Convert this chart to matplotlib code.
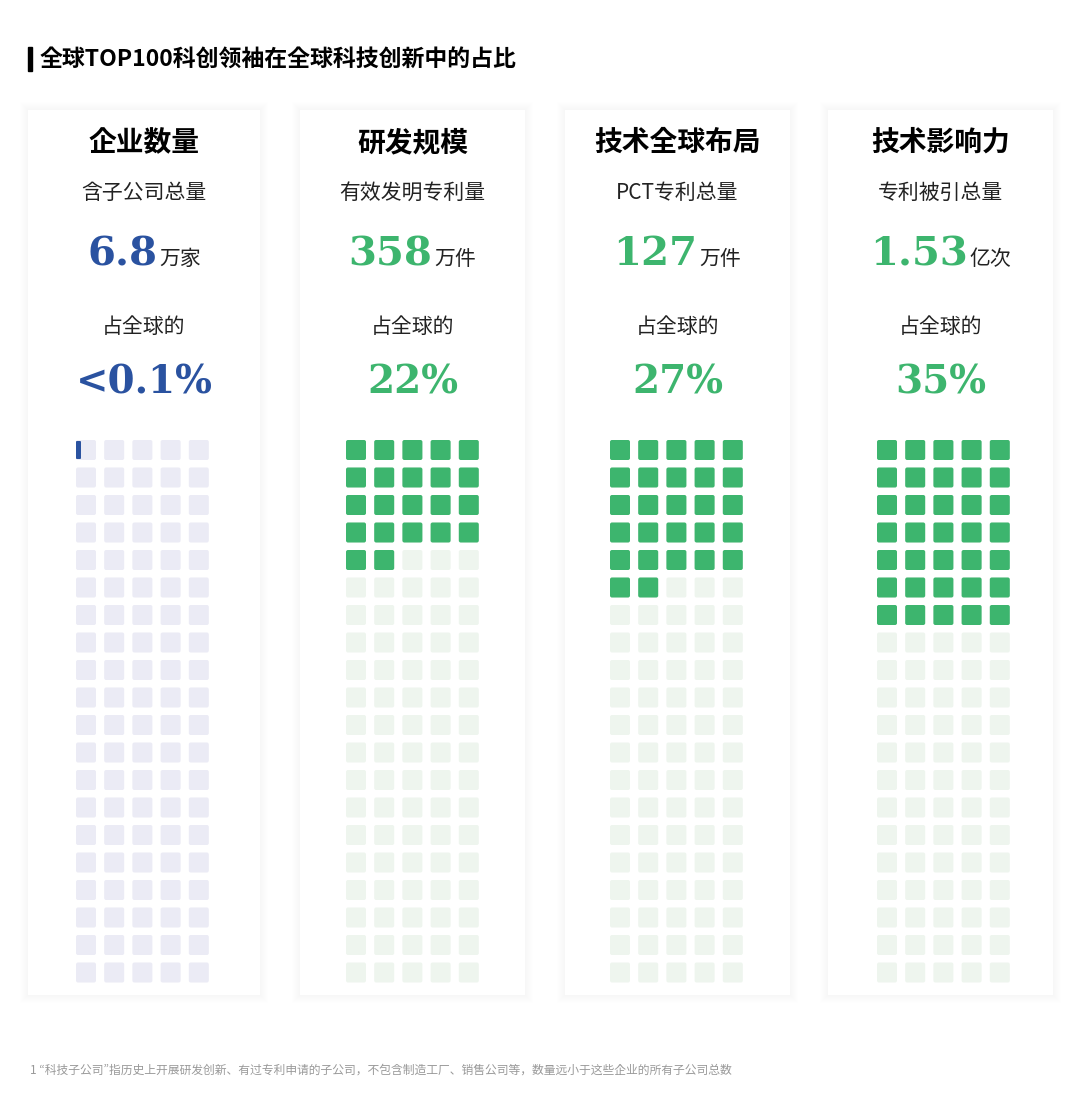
import matplotlib
matplotlib.use("Agg")
import matplotlib.pyplot as plt
from matplotlib.patches import FancyBboxPatch, Rectangle
from matplotlib import font_manager as fm

titles = ["企业数量", "研发规模", "技术全球布局", "技术影响力"]
subtitles = ["含子公司总量", "有效发明专利量", "PCT专利总量", "专利被引总量"]
numbers = ["6.8", "358", "127", "1.53"]
units = ["万家", "万件", "万件", "亿次"]
pct_labels = ["<0.1%", "22%", "27%", "35%"]
pct_values = [0.07, 22, 27, 35]
main_title = "全球TOP100科创领袖在全球科技创新中的占比"
footnote = "1 \u201c科技子公司\u201d指历史上开展研发创新、有过专利申请的子公司，不包含制造工厂、销售公司等，数量远小于这些企业的所有子公司总数"

names = sorted({f.name for f in fm.fontManager.ttflist})
cjk = [n for n in names if "CJK" in n and ("SC" in n or "JP" in n)] or [n for n in names if "CJK" in n]
CJK = "Noto Sans CJK SC" if "Noto Sans CJK SC" in names else (cjk[0] if cjk else "DejaVu Sans")
plt.rcParams["font.family"] = [CJK, "DejaVu Sans"]
SERIF = "DejaVu Serif"

fig = plt.figure(figsize=(10.8, 11.09), dpi=100)
ax = fig.add_axes([0, 0, 1, 1])
ax.set_xlim(0, 1080); ax.set_ylim(1109, 0); ax.axis("off")

ax.add_patch(Rectangle((28, 47), 4, 24, color="black"))
ax.text(40, 59, main_title, fontfamily=CJK, fontsize=16.5, fontweight="bold", va="center")
ax.text(30, 1070, footnote, fontfamily=CJK, fontsize=8.5, color="#999999", va="center")

cards = [(28, 260), (300, 525), (565, 790), (828, 1053)]
grid_x0 = [76, 346, 610, 877]
fill = ["#2a52a0", "#3db56e", "#3db56e", "#3db56e"]
light = ["#ebebf5", "#eef5ee", "#eef5ee", "#eef5ee"]
renderer = fig.canvas.get_renderer()

for i, (x0, x1) in enumerate(cards):
    for k in range(8, 0, -1):
        ax.add_patch(Rectangle((x0 - k, 110 - k), x1 - x0 + 2 * k, 885 + 2 * k,
                               fc="#000000", ec="none", alpha=0.004))
    ax.add_patch(Rectangle((x0, 110), x1 - x0, 885, fc="white", ec="none"))
    cx = (x0 + x1) / 2
    c = fill[i]
    ax.text(cx, 143, titles[i], fontfamily=CJK, fontsize=20, fontweight="bold", ha="center", va="center")
    ax.text(cx, 193, subtitles[i], fontfamily=CJK, fontsize=15, ha="center", va="center", color="#222222")
    tn = ax.text(0, 0, numbers[i], fontfamily=SERIF, fontsize=29, fontweight="bold", color=c, va="baseline")
    tu = ax.text(0, 0, units[i], fontfamily=CJK, fontsize=15, color="#222222", va="baseline")
    wn = tn.get_window_extent(renderer).width
    wu = tu.get_window_extent(renderer).width
    start = cx - (wn + wu + 2) / 2
    tn.set_position((start, 265)); tu.set_position((start + wn + 2, 265))
    ax.text(cx, 327, "占全球的", fontfamily=CJK, fontsize=15, ha="center", va="center", color="#222222")
    ax.text(cx, 383, pct_labels[i], fontfamily=SERIF, fontsize=28, fontweight="bold", color=c, ha="center", va="center")
    v = pct_values[i]
    for n in range(100):
        r, col = divmod(n, 5)
        x = grid_x0[i] + col * 28.2
        y = 440 + r * 27.5
        ax.add_patch(FancyBboxPatch((x + 2, y + 2), 16, 16, boxstyle="round,pad=2",
                                    fc=light[i], ec="none"))
        frac = min(max(v - n, 0), 1)
        if frac >= 1:
            ax.add_patch(FancyBboxPatch((x + 2, y + 2), 16, 16, boxstyle="round,pad=2",
                                        fc=c, ec="none"))
        elif frac > 0:
            ax.add_patch(FancyBboxPatch((x + 1, y + 2), max(20 * frac, 3), 16, boxstyle="round,pad=1",
                                        fc=c, ec="none"))

fig.savefig("out.png", dpi=100, facecolor="white")
